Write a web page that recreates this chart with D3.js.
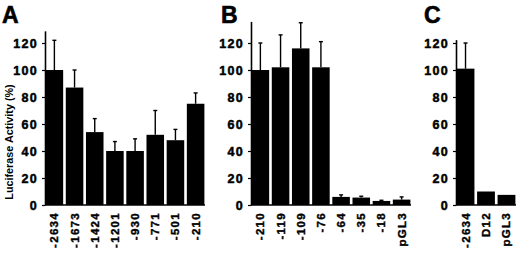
<!DOCTYPE html>
<html>
<head>
<script src="https://d3js.org/d3.v7.min.js"></script>
<style>
  body { margin: 0; background: #fff; }
  text { font-family: "Liberation Sans", Arial, sans-serif; font-weight: bold; fill: #000; }
</style>
</head>
<body>
<script>
// panel A: deletion constructs
let catsA = ["-2634", "-1673", "-1424", "-1201", "-930", "-771", "-501", "-210"];
let valsA = [100, 87, 54, 40, 40, 52, 48, 75];
let errA  = [22, 13, 10, 7, 9, 18, 8, 8];
// panel B
let catsB = ["-210", "-119", "-109", "-76", "-64", "-35", "-18", "pGL3"];
let valsB = [100, 102, 116, 102, 6, 5.5, 3, 4];
let errB  = [20, 24, 19, 19, 1.5, 1, 0.5, 2];
// panel C
let catsC = ["-2634", "D12", "pGL3"];
let valsC = [101, 10, 7.5];
let errC  = [19, 0, 0];
let yTicks = [0, 20, 40, 60, 80, 100, 120];

let width = 520, height = 254;
let base = 205, pxPerUnit = 1.35;

let svg = d3.select("body").append("svg")
    .attr("width", width).attr("height", height);

function panel(letter, cats, vals, errs, x0, x1, yTop, letterX) {
    let g = svg.append("g");
    let x = d3.scaleBand().domain(cats).range([x0, x1])
        .paddingInner(0.13).paddingOuter(0.03);
    let y = d3.scaleLinear().domain([0, yTop]).range([base, base - yTop * pxPerUnit]);

    let yAxis = d3.axisLeft(y).tickValues(yTicks).tickSize(3).tickSizeOuter(0).tickPadding(4);
    let ag = g.append("g").attr("transform", "translate(" + x0 + ",0)").call(yAxis);
    ag.select(".domain").attr("stroke", "#000").attr("stroke-width", 1.6);
    ag.selectAll(".tick line").attr("stroke", "#000").attr("stroke-width", 1.2);
    ag.selectAll(".tick text")
        .style("font-size", "12.5px").style("letter-spacing", "1.3px")
        .style("font-family", "'Liberation Sans', Arial, sans-serif").style("font-weight", "bold")
        .style("stroke", "#000").style("stroke-width", "0.5px");

    // x baseline
    g.append("line").attr("x1", x0).attr("x2", x1).attr("y1", base).attr("y2", base)
        .attr("stroke", "#000").attr("stroke-width", 1.6);

    // error bars
    cats.forEach(function(c, i) {
        if (errs[i] <= 0) return;
        let cx = x(c) + x.bandwidth() / 2;
        g.append("line").attr("x1", cx).attr("x2", cx)
            .attr("y1", y(vals[i])).attr("y2", y(vals[i] + errs[i]))
            .attr("stroke", "#000").attr("stroke-width", 1.4);
        g.append("line").attr("x1", cx - 2).attr("x2", cx + 2)
            .attr("y1", y(vals[i] + errs[i])).attr("y2", y(vals[i] + errs[i]))
            .attr("stroke", "#000").attr("stroke-width", 1.4);
    });

    g.selectAll("rect.bar").data(cats).enter().append("rect")
        .attr("class", "bar")
        .attr("x", function(d) { return x(d); })
        .attr("width", x.bandwidth())
        .attr("y", function(d, i) { return y(vals[i]); })
        .attr("height", function(d, i) { return base - y(vals[i]); })
        .attr("fill", "#000");

    g.selectAll("text.xl").data(cats).enter().append("text")
        .attr("class", "xl")
        .attr("transform", function(d) {
            return "translate(" + (x(d) + x.bandwidth() / 2 + 4) + "," + (base + 7) + ") rotate(-90)";
        })
        .attr("text-anchor", "end")
        .style("font-size", "11.5px").style("letter-spacing", "1.3px")
        .style("stroke", "#000").style("stroke-width", "0.4px")
        .text(function(d) { return d; });

    svg.append("text").attr("x", letterX).attr("y", 23)
        .style("font-size", "23px").style("stroke", "#000").style("stroke-width", "0.6px")
        .text(letter);
}

panel("A", catsA, valsA, errA, 45, 205, 129, 2);
panel("B", catsB, valsB, errB, 251, 411, 136, 221);
panel("C", catsC, valsC, errC, 456, 516, 122.5, 424);

svg.append("text")
    .attr("transform", "translate(13,142) rotate(-90)")
    .attr("text-anchor", "middle")
    .style("font-size", "10.8px")
    .text("Luciferase Activity (%)");
</script>
</body>
</html>
